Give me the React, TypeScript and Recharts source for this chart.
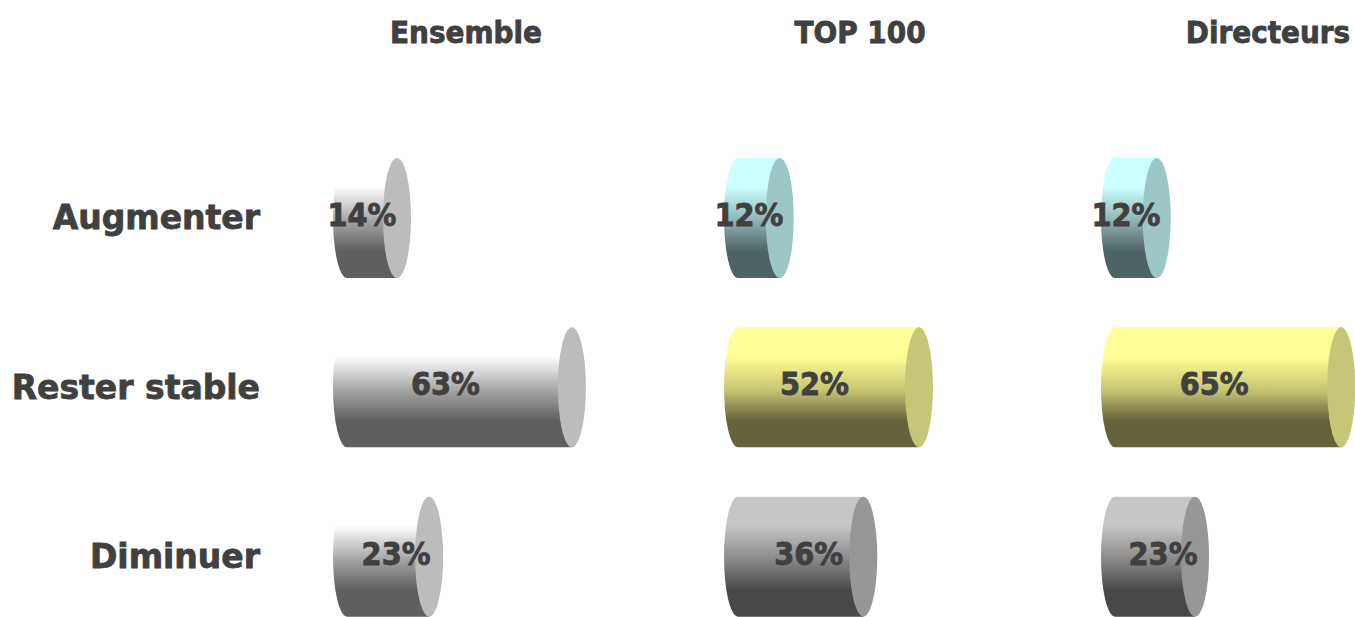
import React from 'react';
import { BarChart, Bar, XAxis, YAxis, LabelList } from 'recharts';

// ---------- data ----------
const categories = ['Augmenter', 'Rester stable', 'Diminuer'];
const panelTitles = ['Ensemble', 'TOP 100', 'Directeurs'];
const ensembleValues = [14, 63, 23];
const top100Values = [12, 52, 36];
const directeursValues = [12, 65, 23];

// ---------- styles ----------
type Palette = { top: string; mid: string; bottom: string; cap: string };
const WHITE_GREY: Palette = { top: '#ffffff', mid: '#a6a6a6', bottom: '#5f5f5f', cap: '#bcbcbc' };
const CYAN: Palette = { top: '#ccffff', mid: '#8fb3b4', bottom: '#4e6364', cap: '#9dc6c6' };
const YELLOW: Palette = { top: '#ffff99', mid: '#c7c672', bottom: '#65633a', cap: '#c6c678' };
const GREY: Palette = { top: '#c6c6c6', mid: '#8a8a8a', bottom: '#484848', cap: '#979797' };

// horizontal nudge of the value label for each category row (style only)
const labelNudge = [4, 0, 22];

const TEXT = '#404040';
const TITLE_FONT = '"DejaVu Sans Condensed", "DejaVu Sans", sans-serif';
const CAT_FONT = '"DejaVu Sans", sans-serif';
const RX = 14;
const HEAVY = 0.8;

const buildRows = (vals: number[]) => categories.map((name, i) => ({ name, value: vals[i] }));

const Cylinder = (props: any) => {
  const { x, y, width, height, payload, palettes, uid } = props;
  const idx = categories.indexOf(payload?.name);
  const p: Palette = palettes[idx < 0 ? 0 : idx];
  const id = `cyl-${uid}-${idx}`;
  const ry = height / 2;
  const d = `M${x},${y} L${x + width},${y} L${x + width},${y + height} L${x},${y + height} A${RX},${ry} 0 0 1 ${x},${y} Z`;
  return (
    <g>
      <defs>
        <linearGradient id={id} x1="0" y1="0" x2="0" y2="1">
          <stop offset="0" stopColor={p.top} />
          <stop offset="0.24" stopColor={p.top} />
          <stop offset="0.52" stopColor={p.mid} />
          <stop offset="0.78" stopColor={p.bottom} />
          <stop offset="1" stopColor={p.bottom} />
        </linearGradient>
      </defs>
      <path d={d} fill={`url(#${id})`} />
      <ellipse cx={x + width} cy={y + ry} rx={RX} ry={ry} fill={p.cap} />
    </g>
  );
};

const ValueLabel = (props: any) => {
  const { x, y, width, height, value, index } = props;
  const nudge = labelNudge[index] ?? 0;
  return (
    <text
      x={x + width / 2 - RX + nudge}
      y={y + height / 2 + 8}
      textAnchor="middle"
      fontFamily={TITLE_FONT}
      fontWeight="bold"
      fontSize={32}
      fill={TEXT}
      stroke={TEXT}
      strokeWidth={HEAVY}
    >
      {`${value}%`}
    </text>
  );
};

type PanelProps = {
  uid: string;
  values: number[];
  palettes: Palette[];
  left: number;
  zeroX: number;
  pxPerPct: number;
  showCategories?: boolean;
};

const CHART_H = 641;
const TOP_MARGIN = 133;

const Panel = ({ uid, values, palettes, left, zeroX, pxPerPct, showCategories }: PanelProps) => {
  const plotW = 100 * pxPerPct;
  const yAxisW = showCategories ? zeroX - left : 0;
  const marginLeft = showCategories ? 0 : zeroX - left;
  const width = marginLeft + yAxisW + plotW;
  return (
    <div style={{ position: 'absolute', left, top: 0 }}>
      <BarChart
        width={width}
        height={CHART_H}
        data={buildRows(values)}
        layout="vertical"
        margin={{ top: TOP_MARGIN, right: 0, bottom: 0, left: marginLeft }}
      >
        <XAxis type="number" domain={[0, 100]} hide />
        <YAxis
          type="category"
          dataKey="name"
          hide={!showCategories}
          width={yAxisW}
          axisLine={false}
          tickLine={false}
          tickSize={0}
          tickMargin={87}
          tick={{ fill: TEXT, stroke: TEXT, strokeWidth: HEAVY, fontFamily: CAT_FONT, fontWeight: 'bold', fontSize: 33 }}
        />
        <Bar
          dataKey="value"
          barSize={120}
          isAnimationActive={false}
          shape={(p: any) => <Cylinder {...p} palettes={palettes} uid={uid} />}
        >
          <LabelList dataKey="value" content={ValueLabel} />
        </Bar>
      </BarChart>
    </div>
  );
};

const titleX = [466, 860, 1268];

export default function App() {
  return (
    <div
      style={{
        position: 'absolute',
        left: 0,
        top: 0,
        width: 1355,
        height: 617,
        overflow: 'hidden',
        background: '#ffffff',
      }}
    >
      <Panel uid="ens" values={ensembleValues} palettes={[WHITE_GREY, WHITE_GREY, WHITE_GREY]} left={0} zeroX={347} pxPerPct={3.57} showCategories />
      <Panel uid="top" values={top100Values} palettes={[CYAN, YELLOW, GREY]} left={700} zeroX={738} pxPerPct={3.48} />
      <Panel uid="dir" values={directeursValues} palettes={[CYAN, YELLOW, GREY]} left={1078} zeroX={1115} pxPerPct={3.48} />
      <svg width={1355} height={60} style={{ position: 'absolute', left: 0, top: 0 }}>
        {panelTitles.map((t, i) => (
          <text
            key={t}
            x={titleX[i]}
            y={43}
            textAnchor="middle"
            fontFamily={TITLE_FONT}
            fontWeight="bold"
            fontSize={31}
            fill={TEXT}
            stroke={TEXT}
            strokeWidth={HEAVY}
          >
            {t}
          </text>
        ))}
      </svg>
    </div>
  );
}
